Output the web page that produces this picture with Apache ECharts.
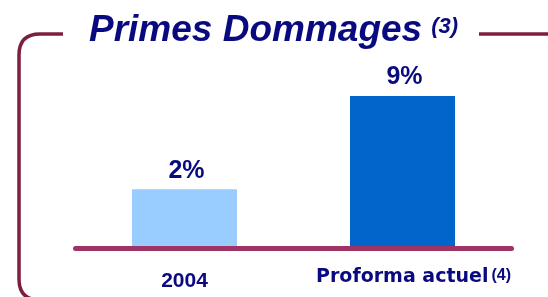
<!DOCTYPE html>
<html>
<head>
<meta charset="utf-8">
<script src="https://cdn.jsdelivr.net/npm/echarts@6/dist/echarts.min.js"></script>
<style>
  html, body { margin: 0; padding: 0; background: #fff; }
  #chart { width: 548px; height: 297px; }
</style>
</head>
<body>
<div id="chart"></div>
<script>
// categories and values
const categories = ['2004', 'Proforma actuel']
const growth = [2, 9]
const footnotes = ['', '(4)']
// the source chart's bars do not start at zero: a filler segment under each bar
const baseOffset = [2.4, 2.4]

const barColors = ['#99CCFF', '#0066CC']
const navy = '#0A0A80'
const frameColor = '#7B1F3D'
const arial = '"Liberation Sans", Arial, sans-serif'

const chart = echarts.init(document.getElementById('chart'))

const frameStyle = { fill: null, stroke: frameColor, lineWidth: 3.5 }

chart.setOption({
  animation: false,
  backgroundColor: '#ffffff',
  title: {
    text: 'Primes Dommages{sup|(3)}',
    left: 84,
    top: 7,
    textStyle: {
      color: navy,
      fontFamily: arial,
      fontSize: 37,
      fontWeight: 'bold',
      fontStyle: 'italic',
      rich: {
        sup: {
          color: navy,
          fontFamily: arial,
          fontSize: 22,
          fontWeight: 'bold',
          fontStyle: 'italic',
          verticalAlign: 'top',
          padding: [4, 0, 0, 9]
        }
      }
    }
  },
  // frame round the panel
  graphic: [
    { type: 'line', shape: { x1: 63, y1: 34, x2: 40, y2: 34 }, style: frameStyle },
    { type: 'bezierCurve', shape: { x1: 40, y1: 34, cpx1: 19, cpy1: 34, x2: 19, y2: 55 }, style: frameStyle },
    { type: 'line', shape: { x1: 19, y1: 55, x2: 19, y2: 279 }, style: frameStyle },
    { type: 'bezierCurve', shape: { x1: 19, y1: 279, cpx1: 19, cpy1: 300, x2: 40, y2: 300 }, style: frameStyle },
    { type: 'line', shape: { x1: 479, y1: 34, x2: 548, y2: 34 }, style: frameStyle }
  ],
  grid: { left: 75.5, right: 36.5, top: 56, bottom: 49 },
  xAxis: {
    type: 'category',
    data: categories,
    z: 5,
    axisLine: {
      onZero: false,
      lineStyle: { color: '#9E3466', width: 5, cap: 'round' }
    },
    axisTick: { show: false },
    axisLabel: {
      margin: 16,
      formatter: (v, i) => footnotes[i] ? '{b|' + v + '}{sup|' + footnotes[i] + '}' : '{a|' + v + '}',
      rich: {
        a: {
          color: navy, fontFamily: arial, fontSize: 21, fontWeight: 'bold',
          lineHeight: 35
        },
        b: {
          color: navy, fontFamily: '"DejaVu Sans", sans-serif', fontSize: 19, fontWeight: 'bold',
          lineHeight: 23, verticalAlign: 'bottom', padding: [0, 0, 0, 22]
        },
        sup: {
          color: navy, fontFamily: arial, fontSize: 16, fontWeight: 'bold',
          lineHeight: 16, verticalAlign: 'top', padding: [4, 0, 0, 3]
        }
      }
    }
  },
  yAxis: { type: 'value', min: 0, max: 14.4, show: false },
  series: [
    {
      type: 'bar',
      stack: 'total',
      barWidth: 105,
      silent: true,
      data: baseOffset.map((v, i) => ({ value: v, itemStyle: { color: barColors[i] } }))
    },
    {
      type: 'bar',
      stack: 'total',
      barWidth: 105,
      data: growth.map((v, i) => ({ value: v, itemStyle: { color: barColors[i] } })),
      label: {
        show: true,
        position: 'top',
        distance: 6,
        offset: [2, 0],
        formatter: p => p.value + '%',
        color: navy,
        fontFamily: arial,
        fontSize: 25,
        fontWeight: 'bold'
      }
    }
  ]
})
</script>
</body>
</html>
